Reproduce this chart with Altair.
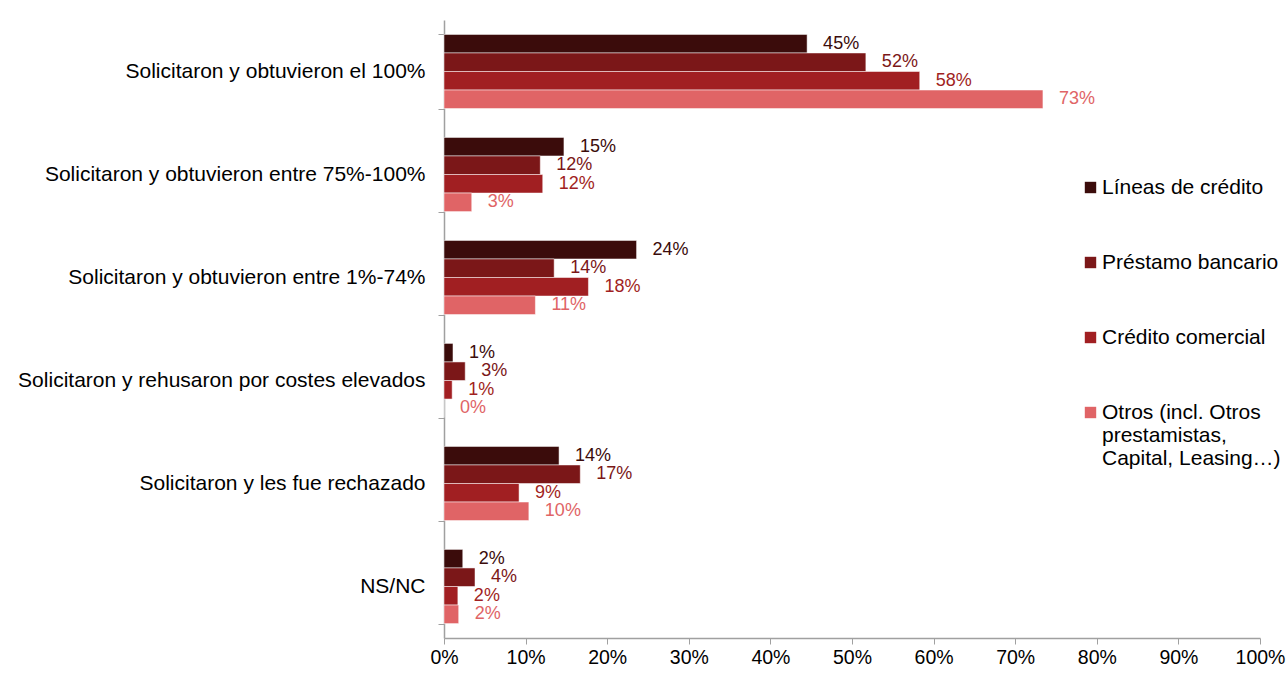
import altair as alt
import pandas as pd

categories = [
    "Solicitaron y obtuvieron el 100%",
    "Solicitaron y obtuvieron entre 75%-100%",
    "Solicitaron y obtuvieron entre 1%-74%",
    "Solicitaron y rehusaron por costes elevados",
    "Solicitaron y les fue rechazado",
    "NS/NC",
]
series = [
    "Líneas de crédito",
    "Préstamo bancario",
    "Crédito comercial",
    "Otros (incl. Otros prestamistas, Capital, Leasing…)",
]
lineas = [44.5, 14.7, 23.6, 1.1, 14.1, 2.3]
prestamo = [51.7, 11.8, 13.5, 2.6, 16.7, 3.8]
credito = [58.3, 12.1, 17.7, 1.0, 9.2, 1.7]
otros = [73.4, 3.4, 11.2, 0.0, 10.4, 1.8]
x_ticks = [0, 10, 20, 30, 40, 50, 60, 70, 80, 90, 100]
colors = ["#3B0C0B", "#7B1718", "#A11F22", "#E06466"]

rows = []
for s, vals in zip(series, [lineas, prestamo, credito, otros]):
    for c, v in zip(categories, vals):
        rows.append({"categoria": c, "serie": s, "valor": v})
df = pd.DataFrame(rows)

FONT = "Liberation Sans"

color = alt.Color(
    "serie:N",
    sort=series,
    scale=alt.Scale(domain=series, range=colors),
    legend=alt.Legend(
        title=None,
        orient="none",
        legendX=636,
        legendY=157,
        symbolType="square",
        symbolSize=130,
        symbolStrokeWidth=0,
        labelFontSize=21,
        labelFont=FONT,
        labelColor="#000000",
        labelLimit=0,
        labelOffset=1,
        rowPadding=53,
        labelExpr="datum.label == 'Otros (incl. Otros prestamistas, Capital, Leasing…)' ? ['Otros (incl. Otros', 'prestamistas,', 'Capital, Leasing…)'] : datum.label",
    ),
)

base = alt.Chart(df).transform_calculate(
    label="format(datum.valor, '.0f') + '%'"
).encode(
    y=alt.Y(
        "categoria:N",
        sort=categories,
        scale=alt.Scale(paddingInner=0.28, paddingOuter=0.14),
        axis=alt.Axis(
            title=None,
            tickBand="extent",
            tickSize=6,
            tickColor="#A0A0A0",
            domainColor="#A0A0A0",
            domainWidth=1.5,
            labelFontSize=21,
            labelFont=FONT,
            labelColor="#000000",
            labelLimit=0,
            labelPadding=13,
        ),
    ),
    yOffset=alt.YOffset("serie:N", sort=series, scale=alt.Scale(paddingInner=0, paddingOuter=0)),
    x=alt.X(
        "valor:Q",
        scale=alt.Scale(domain=[0, 100], nice=False),
        axis=alt.Axis(
            title=None,
            values=x_ticks,
            labelExpr="datum.value + '%'",
            labelFlush=False,
            labelOverlap=False,
            grid=False,
            tickSize=6,
            tickColor="#A0A0A0",
            domainColor="#A0A0A0",
            domainWidth=1.5,
            labelFontSize=19.5,
            labelFont=FONT,
            labelColor="#000000",
            labelPadding=4,
        ),
    ),
    color=color,
)

bars = base.mark_bar(stroke="white", strokeWidth=0.5)
text = base.mark_text(align="left", baseline="middle", dx=16, fontSize=18, font=FONT).encode(
    text="label:N"
)

chart = alt.layer(bars, text).properties(
    width=816,
    height=618,
    padding={"left": 444, "top": 20, "right": 27, "bottom": 36},
    autosize="none",
).configure_view(stroke=None)

chart.save("out.html", embed_options={"renderer": "svg", "actions": False})
